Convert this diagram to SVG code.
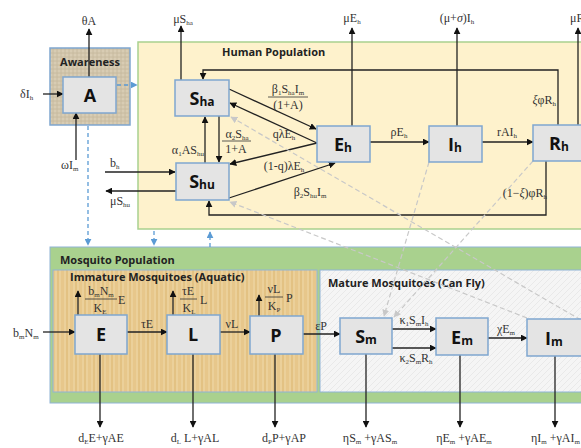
<svg xmlns="http://www.w3.org/2000/svg" width="581" height="448" viewBox="0 0 581 448">
<style>
.lbl{font-family:"Liberation Serif",serif;font-size:12px;fill:#333}
.s{font-size:7px}
.node rect{fill:#e4e4e4;stroke:#7fa6cf;stroke-width:1.5}
.nt{font-family:"Open Sans","Liberation Sans",sans-serif;font-weight:bold;font-size:18px;fill:#111;text-anchor:middle}
.nt .ns{font-size:12px}
.title{font-family:"Open Sans","Liberation Sans",sans-serif;font-weight:bold;font-size:11px;fill:#222}
.ln{fill:none;stroke:#222;stroke-width:1.3}
.ar{marker-end:url(#ah)}
.gd{fill:none;stroke:#c8c8c8;stroke-width:1.2;stroke-dasharray:5 3;marker-end:url(#gh)}
.bd{fill:none;stroke:#5b9bd5;stroke-width:1.3;stroke-dasharray:4 3;marker-end:url(#bh)}
.fr{stroke:#333;stroke-width:0.8}
.m{text-anchor:middle}
.e{text-anchor:end}
</style>
<defs>
<marker id="ah" viewBox="0 0 10 10" refX="9" refY="5" markerWidth="7" markerHeight="7" markerUnits="userSpaceOnUse" orient="auto"><path d="M0,0L10,5L0,10z" fill="#111"/></marker>
<marker id="gh" viewBox="0 0 10 10" refX="9" refY="5" markerWidth="7" markerHeight="7" markerUnits="userSpaceOnUse" orient="auto"><path d="M0,0L10,5L0,10z" fill="#c8c8c8"/></marker>
<marker id="bh" viewBox="0 0 10 10" refX="9" refY="5" markerWidth="7" markerHeight="7" markerUnits="userSpaceOnUse" orient="auto"><path d="M0,0L10,5L0,10z" fill="#5b9bd5"/></marker>
<pattern id="burlap" width="4" height="4" patternUnits="userSpaceOnUse"><rect width="4" height="4" fill="#d8ccb3"/><path d="M0,1H4M1,0V4" stroke="#c4b79c" stroke-width="0.8"/></pattern>
<pattern id="wood" width="9" height="40" patternUnits="userSpaceOnUse"><rect width="9" height="40" fill="#e7c78b"/><path d="M2,0V40M6,0V40" stroke="#efd6a4" stroke-width="1.2"/><path d="M4,0V40" stroke="#dcb676" stroke-width="0.7"/></pattern>
<pattern id="hatch" width="6" height="6" patternUnits="userSpaceOnUse"><rect width="6" height="6" fill="#f5f5f5"/><path d="M0,6L6,0" stroke="#e6e6e6" stroke-width="0.8"/></pattern>
</defs>

<!-- background panels -->
<rect x="138" y="42" width="450" height="187" fill="#fef2cc" stroke="#a9d18e" stroke-width="1.5"/>
<text class="title" x="222" y="56">Human Population</text>
<rect x="50" y="48" width="80" height="77" fill="url(#burlap)" stroke="#7fa6cf" stroke-width="1.5"/>
<text class="title" x="90" y="66" text-anchor="middle">Awareness</text>
<rect x="50" y="247" width="540" height="156" fill="#a9d18e" stroke="#8fb3d6" stroke-width="1"/>
<text class="title" x="60" y="264">Mosquito Population</text>
<rect x="53" y="270" width="264" height="122" fill="url(#wood)" stroke="#8fb3d6" stroke-width="1"/>
<text class="title" x="70" y="281" font-size="11.5">Immature Mosquitoes (Aquatic)</text>
<rect x="320" y="270" width="270" height="122" fill="url(#hatch)" stroke="#8fb3d6" stroke-width="1"/>
<text class="title" x="328" y="287" font-size="11.5">Mature Mosquitoes (Can Fly)</text>

<g id="connectors">
<!-- awareness -->
<path class="ln ar" d="M89,77V29"/>
<path class="ln ar" d="M43,94H63"/>
<path class="ln ar" d="M76,160V113"/>
<path class="bd" d="M117,85H137"/>
<path class="bd" d="M88,126V245"/>
<path class="bd" d="M154,231V245"/>
<path class="bd" d="M210,247V232"/>
<!-- human -->
<path class="ln ar" d="M181,80V26"/>
<path class="ln ar" d="M558,125V70H203V79"/>
<path class="ln ar" d="M578,125V28"/>
<path class="ln ar" d="M352,126V28"/>
<path class="ln ar" d="M457,126V28"/>
<path class="ln ar" d="M370,142H429"/>
<path class="ln ar" d="M482,142H533"/>
<path class="ln ar" d="M229,89L316,129"/>
<path class="ln ar" d="M317,143L230,103"/>
<path class="ln ar" d="M317,143L230,164"/>
<path class="ln ar" d="M229,198L335,163"/>
<path class="ln ar" d="M205,163V117"/>
<path class="ln ar" d="M219,116V162"/>
<path class="ln ar" d="M105,172H175"/>
<path class="ln ar" d="M176,191H106"/>
<path class="ln ar" d="M546,161V215H209V201"/>
<!-- infection dashed -->
<path class="gd" d="M581,320L231,117"/>
<path class="gd" d="M527,318L230,202"/>
<path class="gd" d="M429,162L384,316"/>
<path class="gd" d="M533,161L394,317"/>
<!-- mosquito -->
<path class="ln ar" d="M43,332H75"/>
<path class="ln ar" d="M127,332H167"/>
<path class="ln ar" d="M220,332H250"/>
<path class="ln ar" d="M303,334H340"/>
<path class="ln ar" d="M392,329H436"/>
<path class="ln ar" d="M392,348H436"/>
<path class="ln ar" d="M488,338H527"/>
<path class="ln ar" d="M78,315V291"/>
<path class="ln ar" d="M173,315V291"/>
<path class="ln ar" d="M259,316V295"/>
<path class="ln ar" d="M100,354V427"/>
<path class="ln ar" d="M193,354V427"/>
<path class="ln ar" d="M275,354V427"/>
<path class="ln ar" d="M366,354V427"/>
<path class="ln ar" d="M460,355V427"/>
<path class="ln ar" d="M555,356V427"/>
</g>

<g id="labels">
<text class="lbl m" x="89" y="25">θA</text>
<text class="lbl" x="20" y="98">δI<tspan class="s" dy="2">h</tspan></text>
<text class="lbl" x="61" y="169">ωI<tspan class="s" dy="2">m</tspan></text>
<text class="lbl m" x="183" y="23">μS<tspan class="s" dy="2">ha</tspan></text>
<text class="lbl m" x="352" y="22">μE<tspan class="s" dy="2">h</tspan></text>
<text class="lbl m" x="457" y="22">(μ+<tspan font-style="italic">σ</tspan>)I<tspan class="s" dy="2">h</tspan></text>
<text class="lbl" x="570" y="22">μR<tspan class="s" dy="2">h</tspan></text>
<text class="lbl e" x="556" y="104"><tspan font-style="italic">ξ</tspan>φR<tspan class="s" dy="2">h</tspan></text>
<text class="lbl e" x="547" y="197">(1−<tspan font-style="italic">ξ</tspan>)φR<tspan class="s" dy="2">h</tspan></text>
<text class="lbl m" x="399" y="136">ρE<tspan class="s" dy="2">h</tspan></text>
<text class="lbl m" x="507" y="136">rAI<tspan class="s" dy="2">h</tspan></text>
<text class="lbl m" x="288" y="93">β<tspan class="s" dy="2">1</tspan><tspan dy="-2">S</tspan><tspan class="s" dy="2">ha</tspan><tspan dy="-2">I</tspan><tspan class="s" dy="2">m</tspan></text>
<line class="fr" x1="268" y1="97" x2="308" y2="97"/>
<text class="lbl m" x="288" y="109">(1+A)</text>
<text class="lbl m" x="284" y="138">qλE<tspan class="s" dy="2">h</tspan></text>
<text class="lbl m" x="284" y="170">(1-q)λE<tspan class="s" dy="2">h</tspan></text>
<text class="lbl m" x="310" y="196">β<tspan class="s" dy="2">2</tspan><tspan dy="-2">S</tspan><tspan class="s" dy="2">hu</tspan><tspan dy="-2">I</tspan><tspan class="s" dy="2">m</tspan></text>
<text class="lbl e" x="204" y="154">α<tspan class="s" dy="2">1</tspan><tspan dy="-2">AS</tspan><tspan class="s" dy="2">hu</tspan></text>
<text class="lbl m" x="237" y="138">α<tspan class="s" dy="2">2</tspan><tspan dy="-2">S</tspan><tspan class="s" dy="2">ha</tspan></text>
<line class="fr" x1="222" y1="141" x2="251" y2="141"/>
<text class="lbl m" x="236" y="153">1+A</text>
<text class="lbl" x="110" y="167">b<tspan class="s" dy="2">h</tspan></text>
<text class="lbl" x="110" y="205">μS<tspan class="s" dy="2">hu</tspan></text>
<!-- mosquito labels -->
<text class="lbl" x="13" y="337">b<tspan class="s" dy="2">m</tspan><tspan dy="-2">N</tspan><tspan class="s" dy="2">m</tspan></text>
<text class="lbl m" x="101" y="295">b<tspan class="s" dy="2">m</tspan><tspan dy="-2">N</tspan><tspan class="s" dy="2">m</tspan></text>
<line class="fr" x1="85" y1="299" x2="117" y2="299"/>
<text class="lbl m" x="100" y="312">K<tspan class="s" dy="2">E</tspan></text>
<text class="lbl" x="118" y="304">E</text>
<text class="lbl m" x="188" y="295">τE</text>
<line class="fr" x1="180" y1="299" x2="197" y2="299"/>
<text class="lbl m" x="189" y="312">K<tspan class="s" dy="2">L</tspan></text>
<text class="lbl" x="200" y="304">L</text>
<text class="lbl m" x="274" y="293">νL</text>
<line class="fr" x1="265" y1="297" x2="283" y2="297"/>
<text class="lbl m" x="274" y="310">K<tspan class="s" dy="2">P</tspan></text>
<text class="lbl" x="286" y="302">P</text>
<text class="lbl m" x="147" y="328">τE</text>
<text class="lbl m" x="232" y="328">νL</text>
<text class="lbl m" x="321" y="330">εP</text>
<text class="lbl m" x="414" y="324">κ<tspan class="s" dy="2">1</tspan><tspan dy="-2">S</tspan><tspan class="s" dy="2">m</tspan><tspan dy="-2">I</tspan><tspan class="s" dy="2">h</tspan></text>
<text class="lbl m" x="416" y="362">κ<tspan class="s" dy="2">2</tspan><tspan dy="-2">S</tspan><tspan class="s" dy="2">m</tspan><tspan dy="-2">R</tspan><tspan class="s" dy="2">h</tspan></text>
<text class="lbl m" x="506" y="333">χE<tspan class="s" dy="2">m</tspan></text>
<text class="lbl m" x="101" y="442">d<tspan class="s" dy="2">E</tspan><tspan dy="-2">E+γAE</tspan></text>
<text class="lbl m" x="195" y="442">d<tspan class="s" dy="2">L</tspan><tspan dy="-2"> L+γAL</tspan></text>
<text class="lbl m" x="284" y="442">d<tspan class="s" dy="2">P</tspan><tspan dy="-2">P+γAP</tspan></text>
<text class="lbl m" x="370" y="442">ηS<tspan class="s" dy="2">m</tspan><tspan dy="-2"> +γAS</tspan><tspan class="s" dy="2">m</tspan></text>
<text class="lbl m" x="464" y="442">ηE<tspan class="s" dy="2">m</tspan><tspan dy="-2"> +γAE</tspan><tspan class="s" dy="2">m</tspan></text>
<text class="lbl" x="531" y="442">ηI<tspan class="s" dy="2">m</tspan><tspan dy="-2"> +γAI</tspan><tspan class="s" dy="2">m</tspan></text>
</g>

<g id="node-A" class="node"><rect x="63" y="77" width="53" height="36"/><text class="nt" x="90" y="102">A</text></g>
<g id="node-Sha" class="node"><rect x="175" y="80" width="54" height="36"/><text class="nt" x="202" y="105">S<tspan class="ns" dy="1">ha</tspan></text></g>
<g id="node-Shu" class="node"><rect x="176" y="163" width="53" height="37"/><text class="nt" x="202" y="188">S<tspan class="ns" dy="1">hu</tspan></text></g>
<g id="node-Eh" class="node"><rect x="317" y="126" width="53" height="36"/><text class="nt" x="343" y="151">E<tspan class="ns" dy="1">h</tspan></text></g>
<g id="node-Ih" class="node"><rect x="429" y="126" width="53" height="36"/><text class="nt" x="455" y="151">I<tspan class="ns" dy="1">h</tspan></text></g>
<g id="node-Rh" class="node"><rect x="533" y="125" width="60" height="36"/><text class="nt" x="559" y="150">R<tspan class="ns" dy="1">h</tspan></text></g>
<g id="node-E" class="node"><rect x="75" y="315" width="52" height="39"/><text class="nt" x="101" y="341">E</text></g>
<g id="node-L" class="node"><rect x="167" y="315" width="53" height="39"/><text class="nt" x="193" y="341">L</text></g>
<g id="node-P" class="node"><rect x="250" y="316" width="53" height="38"/><text class="nt" x="276" y="342">P</text></g>
<g id="node-Sm" class="node"><rect x="340" y="318" width="52" height="36"/><text class="nt" x="366" y="343">S<tspan class="ns" dy="1">m</tspan></text></g>
<g id="node-Em" class="node"><rect x="436" y="318" width="52" height="37"/><text class="nt" x="462" y="344">E<tspan class="ns" dy="1">m</tspan></text></g>
<g id="node-Im" class="node"><rect x="527" y="319" width="60" height="37"/><text class="nt" x="554" y="345">I<tspan class="ns" dy="1">m</tspan></text></g>
</svg>
